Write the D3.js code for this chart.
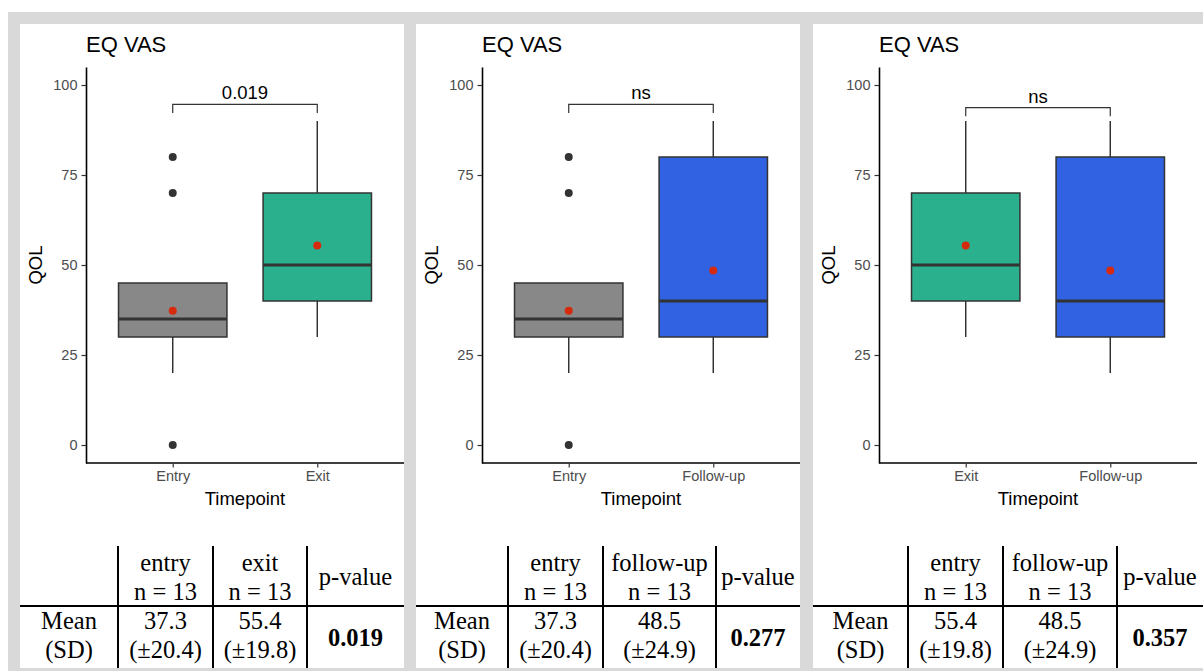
<!DOCTYPE html>
<html>
<head>
<meta charset="utf-8">
<script src="https://cdn.jsdelivr.net/npm/d3@7"></script>
<style>
  body { margin: 0; background: #fff; }
  svg { display: block; }
</style>
</head>
<body>
<div id="chart"></div>
<script>
// box statistics per timepoint
const groups = ['Entry', 'Exit', 'Follow-up']
const whiskerLow = [20, 30, 20]
const q1 = [30, 40, 30]
const medians = [35, 50, 40]
const q3 = [45, 70, 80]
const whiskerHigh = [45, 90, 90]
const outliers = [[0, 70, 80], [], []]
const means = [37.3, 55.4, 48.5]

// one panel per comparison
const comparisons = [['Entry', 'Exit'], ['Entry', 'Follow-up'], ['Exit', 'Follow-up']]
const compLabels = ['0.019', 'ns', 'ns']
const bracketY = [94.6, 94.6, 93.7]
const yTicks = [0, 25, 50, 75, 100]

// summary tables under the plots
const tableHeads = [['entry', 'exit'], ['entry', 'follow-up'], ['entry', 'follow-up']]
const tableN = [[13, 13], [13, 13], [13, 13]]
const tableMeans = [['37.3', '55.4'], ['37.3', '48.5'], ['55.4', '48.5']]
const tableSDs = [['20.4', '19.8'], ['20.4', '24.9'], ['19.8', '24.9']]
const tablePValues = ['0.019', '0.277', '0.357']

const fills = { 'Entry': '#888888', 'Exit': '#2bb08e', 'Follow-up': '#3062e1' }
const W = 1203
const H = 671
const panels = [
  { left: 20, right: 404, axisX: 86, cols: [118, 213, 307] },
  { left: 416, right: 800, axisX: 482, cols: [508, 603, 716] },
  { left: 813, right: 1203, axisX: 879, cols: [908, 1003, 1117] }
]
const sans = '"Liberation Sans", Arial, sans-serif'
const serif = '"Liberation Serif", "Times New Roman", serif'

const svg = d3.select('#chart').append('svg')
  .attr('width', W)
  .attr('height', H)

svg.append('rect').attr('width', W).attr('height', H).attr('fill', '#fff')
svg.append('rect').attr('x', 8).attr('y', 12).attr('width', W - 8).attr('height', H - 12).attr('fill', '#d9d9d9')

const y = d3.scaleLinear().domain([-5, 105]).range([463, 67])

panels.forEach((p, pi) => {
  svg.append('rect')
    .attr('x', p.left).attr('y', 24)
    .attr('width', p.right - p.left).attr('height', 668 - 24)
    .attr('fill', '#fff')

  const g = svg.append('g')
  const cats = comparisons[pi]
  const x = d3.scalePoint().domain(cats).range([p.axisX, p.axisX + 318]).padding(0.6)
  const bw = x.step() * 0.75

  // title
  g.append('text')
    .attr('x', p.axisX).attr('y', 52)
    .attr('font-family', sans).attr('font-size', 22)
    .attr('fill', '#000')
    .text('EQ VAS')

  // boxes
  cats.forEach(c => {
    const i = groups.indexOf(c)
    const cx = x(c)
    const box = g.append('g')
    if (whiskerHigh[i] > q3[i]) {
      box.append('line').attr('x1', cx).attr('x2', cx)
        .attr('y1', y(q3[i])).attr('y2', y(whiskerHigh[i]))
        .attr('stroke', '#333').attr('stroke-width', 1.5)
    }
    box.append('line').attr('x1', cx).attr('x2', cx)
      .attr('y1', y(q1[i])).attr('y2', y(whiskerLow[i]))
      .attr('stroke', '#333').attr('stroke-width', 1.5)
    box.append('rect')
      .attr('x', cx - bw / 2).attr('y', y(q3[i]))
      .attr('width', bw).attr('height', y(q1[i]) - y(q3[i]))
      .attr('fill', fills[c]).attr('stroke', '#333').attr('stroke-width', 1.5)
    box.append('line')
      .attr('x1', cx - bw / 2).attr('x2', cx + bw / 2)
      .attr('y1', y(medians[i])).attr('y2', y(medians[i]))
      .attr('stroke', '#333').attr('stroke-width', 3.2)
    box.selectAll('circle.out').data(outliers[i]).join('circle')
      .attr('class', 'out')
      .attr('cx', cx).attr('cy', d => y(d)).attr('r', 4)
      .attr('fill', '#333')
    box.append('circle')
      .attr('cx', cx).attr('cy', y(means[i])).attr('r', 4)
      .attr('fill', '#d62a0c')
  })

  // significance bracket
  const by = bracketY[pi]
  const x0 = x(cats[0])
  const x1 = x(cats[1])
  g.append('path')
    .attr('d', `M${x0},${y(by - 2.4)}V${y(by)}H${x1}V${y(by - 2.4)}`)
    .attr('fill', 'none').attr('stroke', '#333').attr('stroke-width', 1.2)
  g.append('text')
    .attr('x', (x0 + x1) / 2).attr('y', y(by) - 5)
    .attr('text-anchor', 'middle')
    .attr('font-family', sans).attr('font-size', 18.5)
    .attr('fill', '#000')
    .text(compLabels[pi])

  // axes
  const yAxis = g.append('g')
    .attr('transform', `translate(${p.axisX},0)`)
    .call(d3.axisLeft(y).tickValues(yTicks).tickSize(4.5).tickSizeOuter(0).tickPadding(4))
  const xAxis = g.append('g')
    .attr('transform', 'translate(0,463)')
    .call(d3.axisBottom(x).tickSize(4.5).tickSizeOuter(0).tickPadding(3))
  xAxis.select('.domain').attr('d', `M${p.axisX},0H${p.axisX + 318}`)
  ;[yAxis, xAxis].forEach(a => {
    a.select('.domain').attr('stroke', '#000').attr('stroke-width', 1.6)
    a.selectAll('.tick line').attr('stroke', '#333').attr('stroke-width', 1.2)
    a.selectAll('.tick text')
      .attr('font-family', sans).attr('font-size', 14.5)
      .attr('fill', '#4d4d4d')
  })

  g.append('text')
    .attr('x', p.axisX + 159).attr('y', 505)
    .attr('text-anchor', 'middle')
    .attr('font-family', sans).attr('font-size', 18.5)
    .text('Timepoint')
  g.append('text')
    .attr('transform', `translate(${p.axisX - 44},265) rotate(-90)`)
    .attr('text-anchor', 'middle')
    .attr('font-family', sans).attr('font-size', 18.5)
    .text('QOL')

  // table
  const t = svg.append('g').attr('font-family', serif).attr('font-size', 24.5).attr('fill', '#000')
  const edges = [p.left].concat(p.cols, [p.right])
  const mid = k => (edges[k] + edges[k + 1]) / 2
  p.cols.forEach(cx => {
    t.append('line').attr('x1', cx).attr('x2', cx).attr('y1', 546).attr('y2', 668)
      .attr('stroke', '#000').attr('stroke-width', 2)
  })
  t.append('line').attr('x1', p.left).attr('x2', p.right).attr('y1', 606).attr('y2', 606)
    .attr('stroke', '#000').attr('stroke-width', 2)
  const txt = (xx, yy, s, bold) => t.append('text')
    .attr('x', xx).attr('y', yy).attr('text-anchor', 'middle')
    .attr('font-weight', bold ? 'bold' : null)
    .text(s)
  ;[0, 1].forEach(j => {
    txt(mid(j + 1), 571, tableHeads[pi][j])
    txt(mid(j + 1), 600, `n = ${tableN[pi][j]}`)
    txt(mid(j + 1), 629, tableMeans[pi][j])
    txt(mid(j + 1), 658, `(±${tableSDs[pi][j]})`)
  })
  txt(mid(3), 585, 'p-value')
  txt(mid(0), 629, 'Mean')
  txt(mid(0), 658, '(SD)')
  txt(mid(3), 646, tablePValues[pi], true)
})
</script>
</body>
</html>
